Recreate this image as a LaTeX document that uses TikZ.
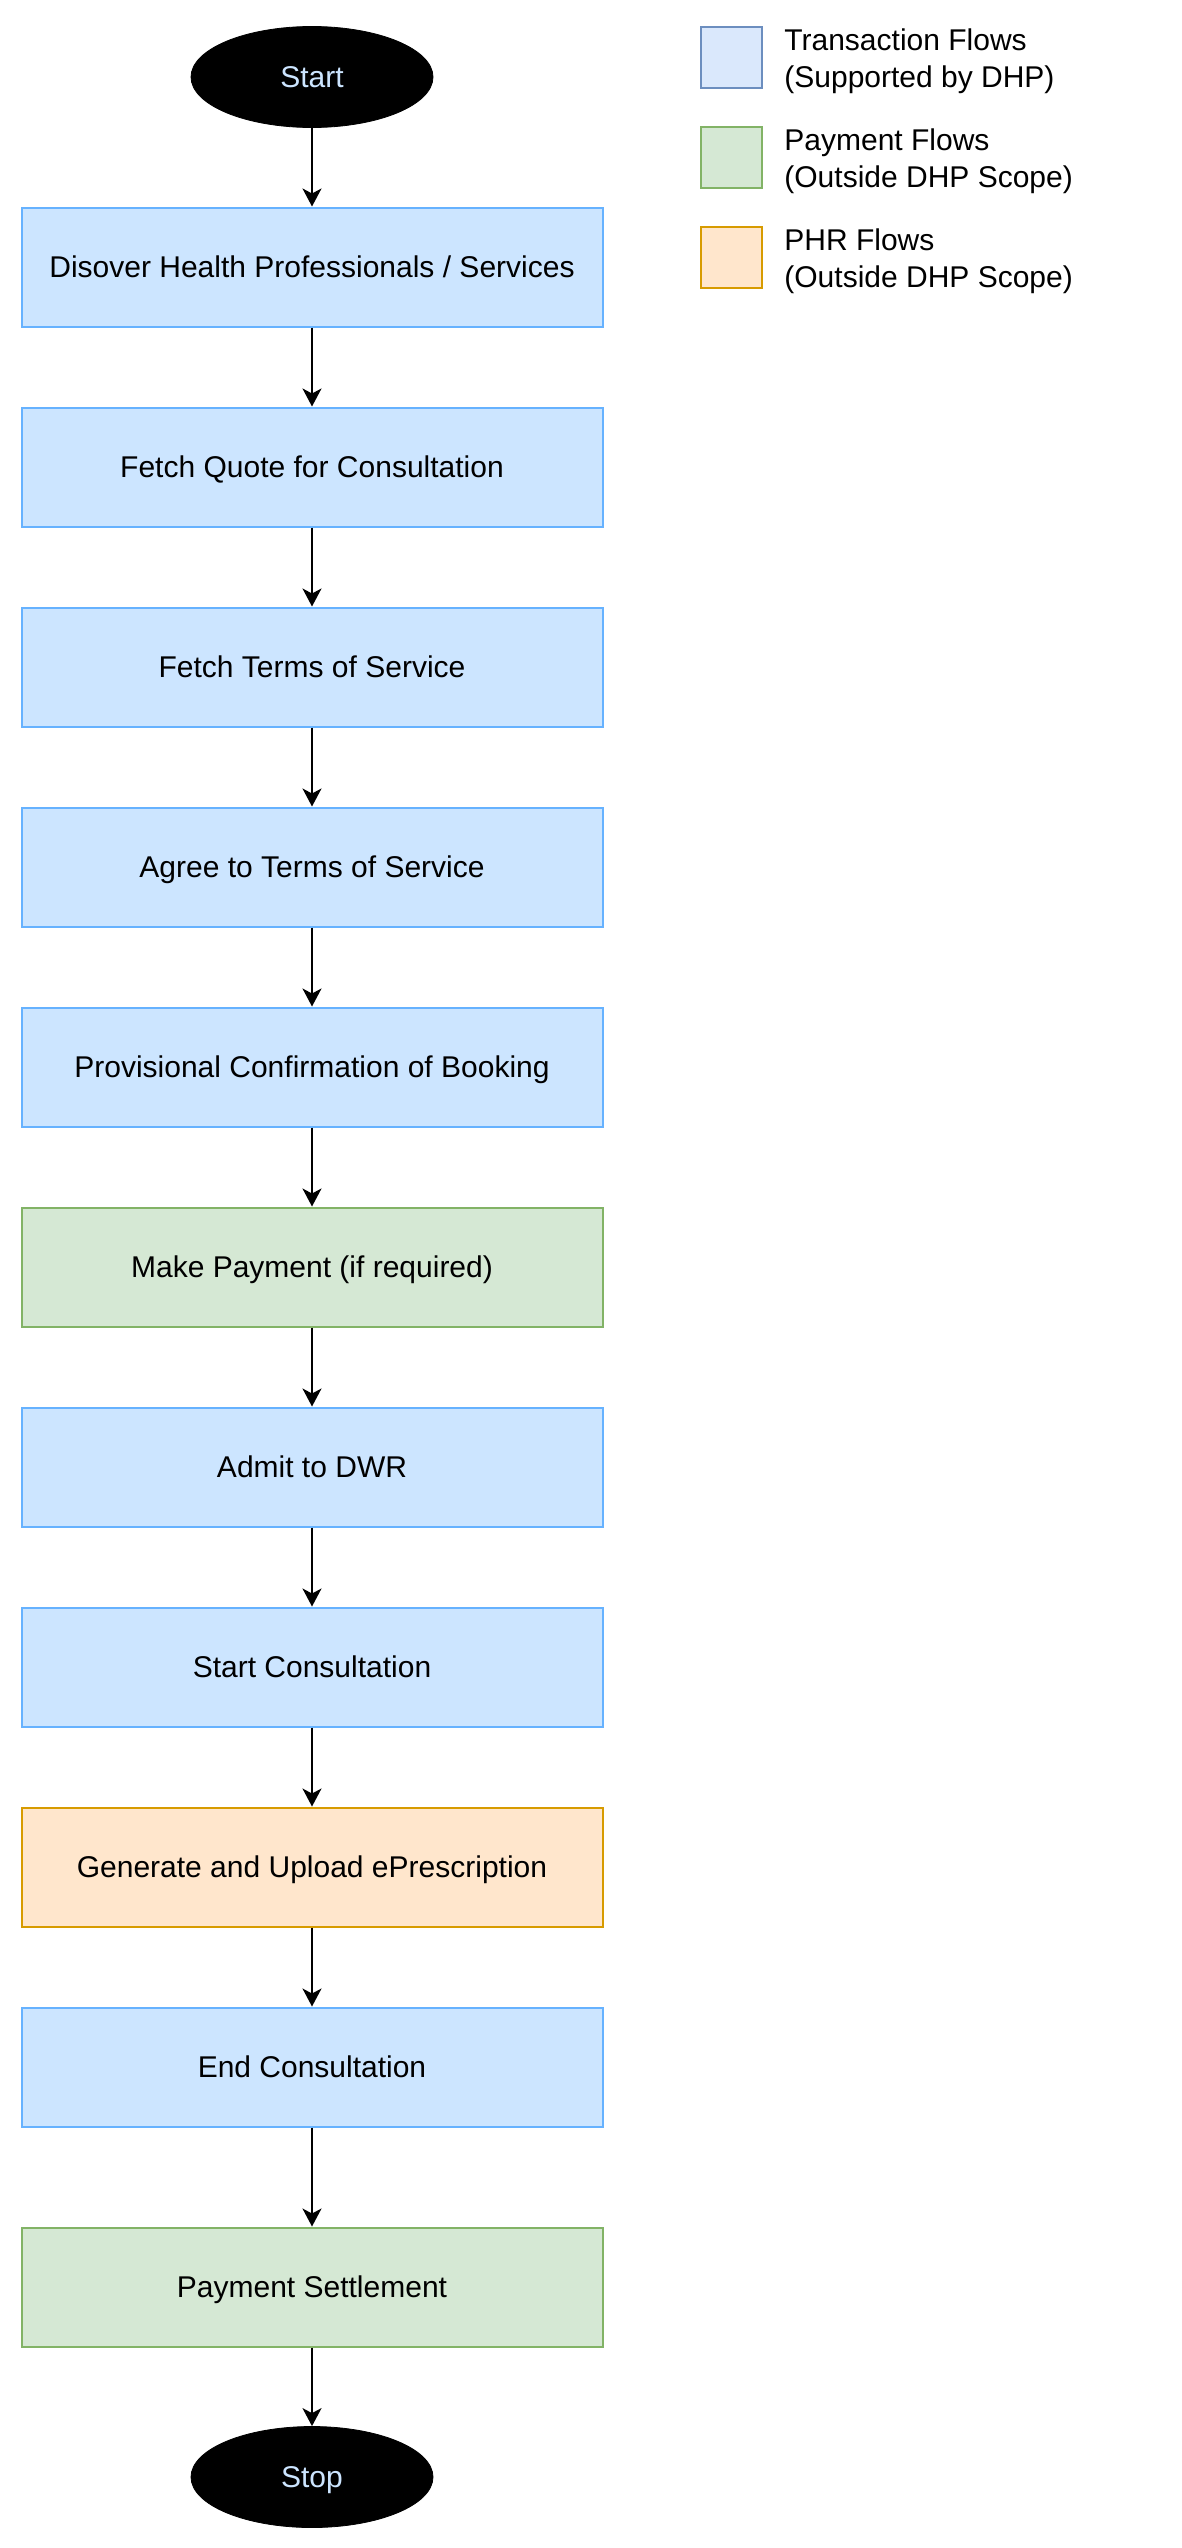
\documentclass[tikz,border=0pt]{standalone}
\usepackage{fontspec}
\setmainfont{Liberation Sans}
\usetikzlibrary{shapes.geometric,arrows.meta}
\definecolor{bluefill}{HTML}{CCE5FF}
\definecolor{bluedraw}{HTML}{66B2FF}
\definecolor{lbluefill}{HTML}{DAE8FC}
\definecolor{lbluedraw}{HTML}{6C8EBF}
\definecolor{greenfill}{HTML}{D5E8D4}
\definecolor{greendraw}{HTML}{82B366}
\definecolor{orangefill}{HTML}{FFE6CC}
\definecolor{orangedraw}{HTML}{D79B00}
\definecolor{termtext}{HTML}{CCE5FF}
\tikzset{
  base/.style={font=\fontsize{15}{18.3}\selectfont, inner sep=0pt},
  oneline/.style={base, text height=12pt, text depth=1.7pt},
  term/.style={oneline, ellipse, fill=black, draw=black, text=termtext, minimum width=121pt, minimum height=50.5pt},
  bluebox/.style={oneline, rectangle, fill=bluefill, draw=bluedraw, line width=1pt, minimum width=290.5pt, minimum height=59.5pt},
  greenbox/.style={bluebox, fill=greenfill, draw=greendraw},
  orangebox/.style={bluebox, fill=orangefill, draw=orangedraw},
  legsq/.style={rectangle, line width=1pt, minimum width=30.5pt, minimum height=30.5pt, inner sep=0pt},
  legtext/.style={base, anchor=west, align=left},
  flow/.style={line width=1pt, -{Stealth[length=9pt, width=9.5pt, inset=2.5pt]}}
}
\begin{document}
\begin{tikzpicture}[x=0.5pt, y=-0.5pt]
\useasboundingbox (0,0) rectangle (1182,2548);
\node[term] (start) at (312,77) {Start};
\node[bluebox] (b1) at (312,267) {Disover Health Professionals / Services};
\node[bluebox] (b2) at (312,467) {Fetch Quote for Consultation};
\node[bluebox] (b3) at (312,667) {Fetch Terms of Service};
\node[bluebox] (b4) at (312,867) {Agree to Terms of Service};
\node[bluebox] (b5) at (312,1067) {Provisional Confirmation of Booking};
\node[greenbox] (b6) at (312,1267) {Make Payment (if required)};
\node[bluebox] (b7) at (312,1467) {Admit to DWR};
\node[bluebox] (b8) at (312,1667) {Start Consultation};
\node[orangebox] (b9) at (312,1867) {Generate and Upload ePrescription};
\node[bluebox] (b10) at (312,2067) {End Consultation};
\node[greenbox] (b11) at (312,2287) {Payment Settlement};
\node[term] (stop) at (312,2477) {Stop};
\draw[flow] (start) -- (b1);
\draw[flow] (b1) -- (b2);
\draw[flow] (b2) -- (b3);
\draw[flow] (b3) -- (b4);
\draw[flow] (b4) -- (b5);
\draw[flow] (b5) -- (b6);
\draw[flow] (b6) -- (b7);
\draw[flow] (b7) -- (b8);
\draw[flow] (b8) -- (b9);
\draw[flow] (b9) -- (b10);
\draw[flow] (b10) -- (b11);
\draw[flow] (b11) -- (stop);
% legend
\node[legsq, fill=lbluefill, draw=lbluedraw] (l1) at (731.5,57) {};
\node[legsq, fill=greenfill, draw=greendraw] (l2) at (731.5,157) {};
\node[legsq, fill=orangefill, draw=orangedraw] (l3) at (731.5,257) {};
\node[legtext] (t1) at (784,61) {Transaction Flows\\(Supported by DHP)};
\node[legtext] (t2) at (784,161) {Payment Flows\\(Outside DHP Scope)};
\node[legtext] (t3) at (784,261) {PHR Flows\\(Outside DHP Scope)};
\end{tikzpicture}
\end{document}
